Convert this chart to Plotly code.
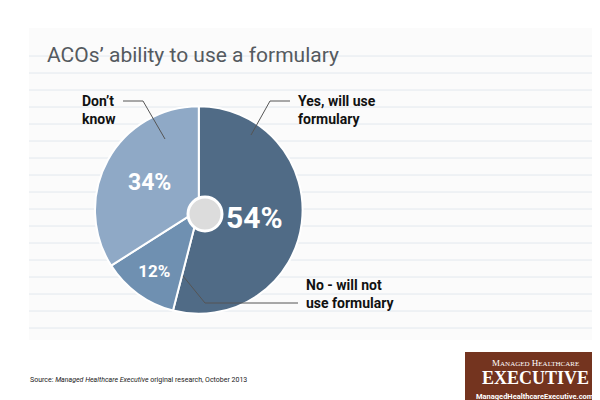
import plotly.graph_objects as go

labels = ["Yes, will use formulary", "No - will not use formulary", "Don't know"]
values = [54, 12, 34]
colors = ["#506b86", "#6f90b1", "#8fa9c6"]
text_sizes = [30, 17, 23]

FONT = "Roboto, Liberation Sans, sans-serif"
fig = go.Figure()
fig.add_trace(go.Pie(
    labels=labels, values=values, sort=False, direction="clockwise", rotation=0,
    hole=0.08, marker=dict(colors=colors, line=dict(color="white", width=2)),
    texttemplate="<b>%{value}%</b>", textposition="inside", insidetextorientation="horizontal",
    textfont=dict(color="white", size=text_sizes, family=FONT),
    showlegend=False, hoverinfo="skip",
    domain=dict(x=[0.145, 0.491], y=[0.235, 0.755]),
))

shapes = []
shapes.append(dict(type="rect", xref="paper", yref="paper", x0=0.035, x1=0.99, y0=0.17, y1=0.95,
                   fillcolor="#fbfbfb", line=dict(width=0), layer="below"))
y = 48
while y < 330:
    shapes.append(dict(type="line", xref="paper", yref="paper", x0=0.035, x1=0.99,
                       y0=1 - y / 400, y1=1 - y / 400, line=dict(color="#e2e8ee", width=1), layer="below"))
    y += 17
shapes.append(dict(type="circle", xref="paper", yref="paper", x0=180 / 600, x1=214 / 600,
                   y0=1 - 223 / 400, y1=1 - 189 / 400, fillcolor="#dcdcdc", line=dict(color="white", width=3)))
def poly(pts):
    d = "M " + " L ".join(f"{x/600},{1-y/400}" for x, y in pts)
    shapes.append(dict(type="path", xref="paper", yref="paper", path=d, line=dict(color="#555", width=1)))
poly([(115, 93), (135, 93), (157, 131)])
poly([(282, 93), (262, 93), (243, 127)])
poly([(175, 268), (197, 295), (290, 295)])
shapes.append(dict(type="rect", xref="paper", yref="paper", x0=457 / 600, x1=598 / 600,
                   y0=1 - 399 / 400, y1=1 - 344 / 400, fillcolor="#74341f", line=dict(width=0)))

ann = [
    dict(x=37 / 600, y=1 - 47 / 400, text="ACOs’ ability to use a formulary", xanchor="left", yanchor="middle",
         font=dict(size=21, color="#555a5f", family=FONT)),
    dict(x=72 / 600, y=1 - 102 / 400, text="<b>Don’t<br>know</b>", xanchor="left", yanchor="middle", align="left",
         font=dict(size=14, color="#111", family=FONT)),
    dict(x=288 / 600, y=1 - 102 / 400, text="<b>Yes, will use<br>formulary</b>", xanchor="left", yanchor="middle", align="left",
         font=dict(size=14, color="#111", family=FONT)),
    dict(x=296 / 600, y=1 - 286 / 400, text="<b>No - will not<br>use formulary</b>", xanchor="left", yanchor="middle", align="left",
         font=dict(size=14, color="#111", family=FONT)),
    dict(x=20 / 600, y=1 - 372 / 400, text="Source: <i>Managed Healthcare Executive</i> original research, October 2013",
         xanchor="left", yanchor="middle", font=dict(size=7, color="#222", family=FONT)),
    dict(x=527 / 600, y=1 - 355 / 400, text="M<span style='font-size:7px'>ANAGED</span> H<span style='font-size:7px'>EALTHCARE</span>",
         xanchor="center", yanchor="middle", font=dict(size=9, color="white", family="Liberation Serif, serif")),
    dict(x=527 / 600, y=1 - 370 / 400, text="<b>EXECUTIVE</b>", xanchor="center", yanchor="middle",
         font=dict(size=18, color="white", family="Liberation Serif, serif")),
    dict(x=527 / 600, y=1 - 388 / 400, text="<b>ManagedHealthcareExecutive.com</b>", xanchor="center", yanchor="middle",
         font=dict(size=7.5, color="white", family=FONT)),
]
for a in ann:
    a.update(xref="paper", yref="paper", showarrow=False)

fig.update_layout(width=600, height=400, margin=dict(l=0, r=0, t=0, b=0),
                  paper_bgcolor="white", plot_bgcolor="white", shapes=shapes, annotations=ann)
fig.write_html("out.html")
